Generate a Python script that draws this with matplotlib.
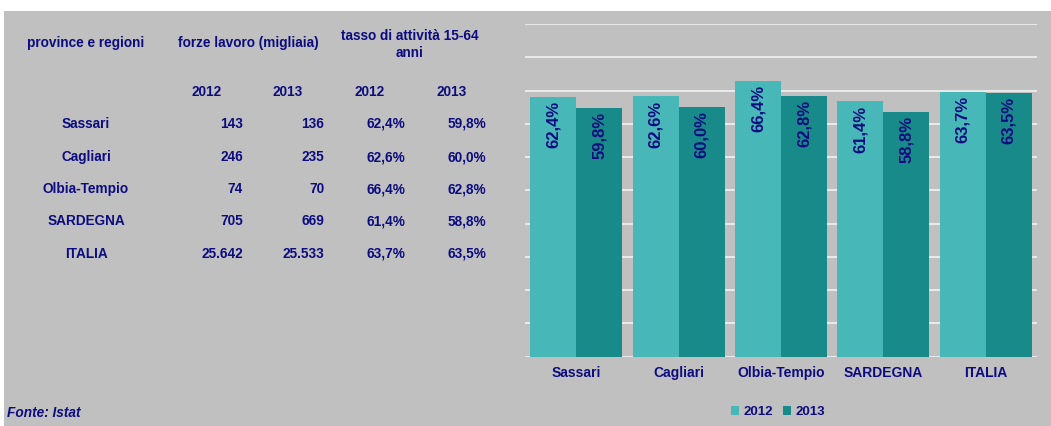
import matplotlib
matplotlib.use("Agg")
import matplotlib.pyplot as plt
from matplotlib.patches import Rectangle
import numpy as np

# ── Data ──────────────────────────────────────────────────────────────────────
provinces = ["Sassari", "Cagliari", "Olbia-Tempio", "SARDEGNA", "ITALIA"]
forze_2012 = [143, 246, 74, 705, 25642]
forze_2013 = [136, 235, 70, 669, 25533]
tasso_2012 = [62.4, 62.6, 66.4, 61.4, 63.7]
tasso_2013 = [59.8, 60.0, 62.8, 58.8, 63.5]
years = ["2012", "2013"]

# ── Style ─────────────────────────────────────────────────────────────────────
plt.rcParams["font.family"] = ["Liberation Sans", "DejaVu Sans"]
NAVY = "#0C0C80"
BG = "#C0C0C0"
C2012 = "#47B7B7"
C2013 = "#188A89"
W, H = 1051, 426


def it_int(v):
    return f"{v:,}".replace(",", ".")


def it_pct(v):
    return f"{v:.1f}%".replace(".", ",")


fig = plt.figure(figsize=(W / 100, H / 100), dpi=100, facecolor="white")
fig.patches.append(Rectangle((4 / W, 0), 1, 1 - 11 / H, transform=fig.transFigure,
                             facecolor=BG, edgecolor="none", zorder=-10))


def ftext(x, y, s, **kw):
    kw.setdefault("color", NAVY)
    kw.setdefault("fontweight", "bold")
    kw.setdefault("fontsize", 9.8)
    kw.setdefault("va", "center")
    fig.text(x / W, 1 - y / H, s, **kw)


# ── Table ─────────────────────────────────────────────────────────────────────
ftext(86, 43, "province e regioni", ha="center")
ftext(248, 43, "forze lavoro (migliaia)", ha="center")
ftext(410, 36, "tasso di attività 15-64", ha="center")
ftext(410, 53, "anni", ha="center")
for x, yr in zip([207, 288, 370, 452], years + years):
    ftext(x, 92, yr, ha="center")

row_y = [124, 157, 189, 221, 254]
for i, name in enumerate(provinces):
    y = row_y[i]
    ftext(86, y, name, ha="center")
    ftext(243, y, it_int(forze_2012[i]), ha="right")
    ftext(324, y, it_int(forze_2013[i]), ha="right")
    ftext(405, y, it_pct(tasso_2012[i]), ha="right")
    ftext(486, y, it_pct(tasso_2013[i]), ha="right")

ftext(7, 413, "Fonte: Istat", ha="left", fontstyle="italic")

# ── Bar chart ─────────────────────────────────────────────────────────────────
ax = fig.add_axes([525 / W, (H - 356.7) / H, 512 / W, (356.7 - 24) / H])
ax.set_facecolor("none")
x = np.arange(len(provinces))
bw = 0.45
b1 = ax.bar(x - bw / 2, tasso_2012, bw, color=C2012, label="2012", zorder=3)
b2 = ax.bar(x + bw / 2, tasso_2013, bw, color=C2013, label="2013", zorder=3)

for bars, vals in [(b1, tasso_2012), (b2, tasso_2013)]:
    for rect, v in zip(bars, vals):
        ax.annotate(it_pct(v), (rect.get_x() + rect.get_width() / 2, rect.get_height()),
                    xytext=(0, -3), textcoords="offset points", rotation=90,
                    ha="center", va="top", color=NAVY, fontweight="bold",
                    fontsize=12, zorder=4)

ax.set_xlim(-0.5, len(provinces) - 0.5)
ax.set_ylim(0, 80)
ax.set_yticks(np.arange(0, 81, 8))
ax.yaxis.grid(True, color="#EEEEEE", linewidth=1.3, zorder=1)
ax.set_yticklabels([])
ax.tick_params(axis="y", length=0)
ax.set_xticks(x)
ax.set_xticklabels(provinces, color=NAVY, fontweight="bold", fontsize=10)
ax.tick_params(axis="x", length=0, pad=7)
for s in ax.spines.values():
    s.set_visible(False)

leg = fig.legend(handles=[b1, b2], labels=years, loc="center",
                 bbox_to_anchor=(778 / W, 1 - 412 / H), ncol=2, frameon=False,
                 handlelength=0.6, handleheight=0.6, handletextpad=0.3,
                 columnspacing=0.8, prop={"weight": "bold", "size": 9.5})
for t in leg.get_texts():
    t.set_color(NAVY)

plt.savefig("out.png", dpi=100, facecolor=fig.get_facecolor())
